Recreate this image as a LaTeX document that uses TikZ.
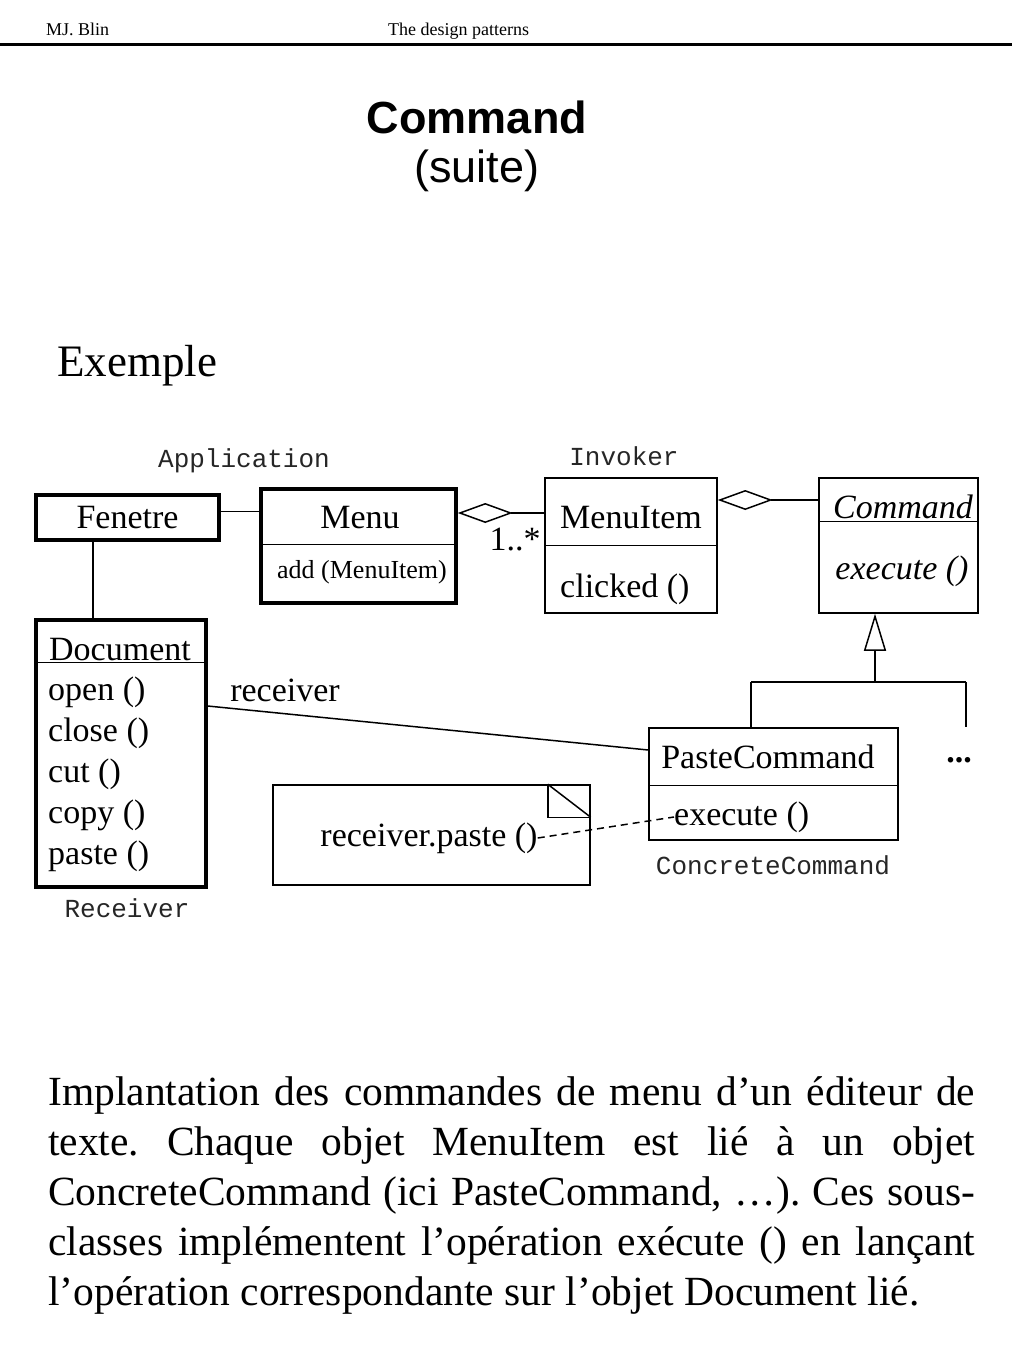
\documentclass[tikz,border=0pt]{standalone}
\usepackage{fontspec}
\setmainfont{Liberation Serif}
\newfontfamily\arialf{Liberation Sans}
\newfontfamily\courf{Liberation Mono}
\usetikzlibrary{arrows.meta,calc}
\newcommand{\dtext}{\fontsize{34}{40}\selectfont}
\newcommand{\dsmall}{\fontsize{26}{30}\selectfont}
\newcommand{\dmono}{\courf\fontsize{26}{30}\selectfont}
\frenchspacing
\begin{document}
\begin{tikzpicture}[x=1pt,y=-1pt,
  thickbox/.style={draw, line width=3.5pt, inner sep=0pt},
  thinbox/.style={draw, line width=1.5pt, inner sep=0pt},
  conn/.style={line width=1.5pt},
  lbl/.style={inner sep=0pt, font=\dtext},
  slbl/.style={inner sep=0pt, font=\dsmall},
  mlbl/.style={inner sep=0pt, font=\dmono, text=black!85, anchor=base},
  aggr/.style={conn, {Diamond[open, length=55pt, width=20pt, line width=1.5pt]}-},
  inh/.style={conn, -{Triangle[open, length=37pt, width=22pt, line width=1.5pt]}}
]
\useasboundingbox (0,0) rectangle (1024,1365);
\fill[white] (0,0) rectangle (1024,1365);

% header
\node[anchor=base west, inner sep=0pt, font=\fontsize{18}{20}\selectfont] (auth) at (46,35) {MJ. Blin};
\node[anchor=base west, inner sep=0pt, font=\fontsize{18}{20}\selectfont] (hdr) at (388,35) {The design patterns};
\draw[line width=3pt] (0,44) -- (1012,44);

% title
\node[anchor=base, inner sep=0pt, font=\arialf\bfseries\fontsize{45}{50}\selectfont] (title) at (477,133) {Command};
\node[anchor=base, inner sep=0pt, font=\arialf\fontsize{45}{50}\selectfont] (suite) at (477,182) {(suite)};
\node[anchor=base west, inner sep=0pt, font=\fontsize{45}{50}\selectfont] (ex) at (57,376) {Exemple};

% boxes
\node[thickbox, minimum width=183, minimum height=45, font=\dtext] (fen) at (127.5,517.5) {Fenetre};

\node[thickbox, minimum width=195, minimum height=114] (menu) at (358.5,546) {};
\draw[conn] ($(menu.north west)+(0,57)$) -- ($(menu.north east)+(0,57)$);
\node[lbl] (menun) at (360,518) {Menu};
\node[slbl] (menuop) at (362,572) {add (MenuItem)};

\node[thinbox, minimum width=172, minimum height=135] (mi) at (631,545.5) {};
\draw[conn] ($(mi.north west)+(0,68)$) -- ($(mi.north east)+(0,68)$);
\node[lbl] (min) at (631,518) {MenuItem};
\node[lbl, anchor=west] (miop) at (560,589) {clicked ()};

\node[thinbox, minimum width=159, minimum height=135] (cmd) at (898.5,545.5) {};
\draw[conn] ($(cmd.north west)+(0,44)$) -- ($(cmd.north east)+(0,44)$);
\node[lbl] (cmdn) at (903,507) {\itshape Command};
\node[lbl] (cmdop) at (902,571) {\itshape execute ()};

\node[thickbox, minimum width=170, minimum height=267] (doc) at (121,753.5) {};
\draw[conn] ($(doc.north west)+(0,44)$) -- ($(doc.north east)+(0,44)$);
\node[lbl] (docn) at (120,650) {Document};
\node[lbl, anchor=west] (d1) at (48,692) {open ()};
\node[lbl, anchor=west] (d2) at (48,733) {close ()};
\node[lbl, anchor=west] (d3) at (48,774) {cut ()};
\node[lbl, anchor=west] (d4) at (48,815) {copy ()};
\node[lbl, anchor=west] (d5) at (48,856) {paste ()};

\node[thinbox, minimum width=249, minimum height=112] (pc) at (773.5,784) {};
\draw[conn] ($(pc.north west)+(0,58)$) -- ($(pc.north east)+(0,58)$);
\node[lbl] (pcn) at (768,757) {PasteCommand};
\node[lbl, anchor=west] (pcop) at (674,817) {execute ()};

% note
\node[thinbox, minimum width=317, minimum height=100] (note) at (431.5,835) {};
\coordinate (fold) at ($(note.north east)+(-43,33)$);
\draw[conn] (note.north east -| fold) -- (fold) -- (fold -| note.north east);
\draw[conn] (note.north east -| fold) -- (fold -| note.north east);
\node[lbl] (notet) at (429,838) {receiver.paste ()};

% labels
\node[mlbl] (lapp) at (244,467) {Application};
\node[mlbl] (linv) at (624,465) {Invoker};
\node[mlbl] (lrec) at (127,917) {Receiver};
\node[mlbl] (lcc) at (773,874) {ConcreteCommand};
\node[lbl] (lrcv) at (285,690) {receiver};
\node[lbl] (lmult) at (515,540) {1..*};
\node[lbl] (ldots) at (959,760) {\bfseries ...};

% connectors
\draw[conn] ($(fen.east)+(0,-6)$) -- ($(fen.east -| menu.west)+(0,-6)$);
\draw[conn] (fen.south -| 93,0) -- (doc.north -| 93,0);
\draw[aggr] ($(menu.east)+(0,-33)$) -- ($(menu.east -| mi.west)+(0,-33)$);
\draw[aggr] ($(mi.east)+(0,-45.5)$) -- ($(mi.east -| cmd.west)+(0,-45.5)$);
\coordinate (j) at (875,682);
\coordinate (jl) at (751,682);
\coordinate (jr) at (966,682);
\draw[inh] (j) -- (cmd.south -| j);
\draw[conn] (jl) -- (jr);
\draw[conn] (jl) -- (pc.north -| jl);
\draw[conn] (jr) -- (pc.north -| jr);
\draw[conn] ($(doc.east)+(0,-47.5)$) -- ($(pc.west)+(0,-34)$);
\draw[conn, dash pattern=on 7pt off 5pt] (notet.east) -- (pcop.west);

% paragraph
\node[anchor=north west, inner sep=0pt, text width=927pt, align=justify,
      font=\fontsize{41.5}{50}\selectfont] (para) at (48,1076)
  {\hyphenpenalty=10000 Implantation des commandes de menu d’un éditeur de\linebreak
   texte. Chaque objet MenuItem est lié à un objet\linebreak
   ConcreteCommand (ici PasteCommand, …). Ces sous-\linebreak
   classes implémentent l’opération exécute () en lançant\linebreak
   l’opération correspondante sur l’objet Document lié.};
\end{tikzpicture}
\end{document}
